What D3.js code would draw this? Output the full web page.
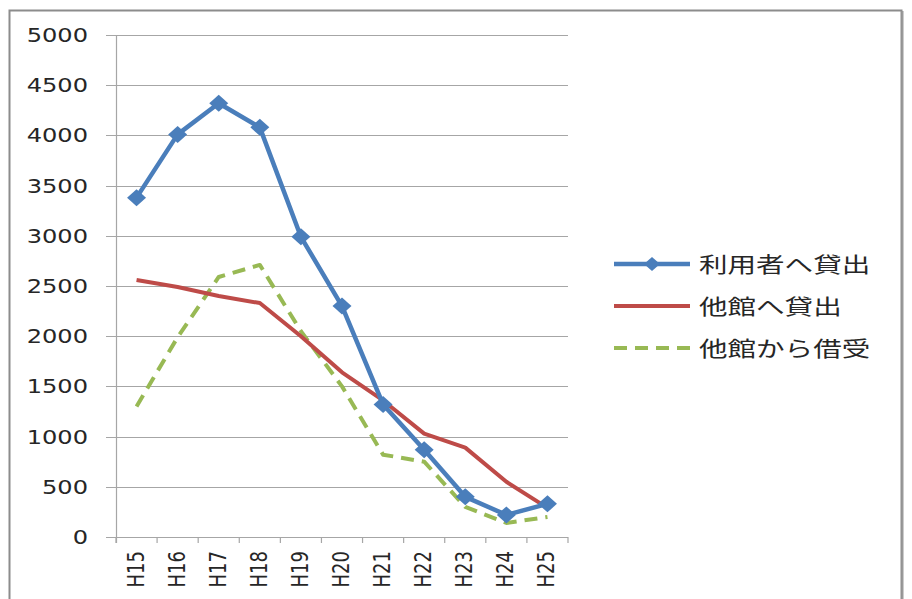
<!DOCTYPE html>
<html>
<head>
<meta charset="utf-8">
<script src="https://cdn.jsdelivr.net/npm/d3@7"></script>
<style>
  body { margin: 0; background: #fff; }
  text { font-family: "DejaVu Sans", sans-serif; fill: #262626; }
  .legend text { font-family: "Noto Sans CJK JP", sans-serif; }
</style>
</head>
<body>
<div id="chart"></div>
<script>
// data
const years = ["H15", "H16", "H17", "H18", "H19", "H20", "H21", "H22", "H23", "H24", "H25"];
const toUsers = [3380, 4010, 4320, 4080, 2990, 2300, 1320, 870, 400, 220, 330];
const toLibraries = [2560, 2490, 2400, 2330, 2000, 1640, 1360, 1030, 890, 550, 290];
const fromLibraries = [1300, 1990, 2590, 2710, 2050, 1500, 820, 750, 300, 140, 200];
const seriesNames = ["利用者へ貸出", "他館へ貸出", "他館から借受"];
const yTicks = [0, 500, 1000, 1500, 2000, 2500, 3000, 3500, 4000, 4500, 5000];

const WIDTH = 912;
const HEIGHT = 599;
const PLOT = { left: 116, right: 568, top: 35, bottom: 537 };
const STRETCH = 1.27; // the picture is wider than tall text would be

const series = [
  { name: seriesNames[0], values: toUsers, color: "#4a7ebb", width: 4.5, dash: null, marker: true },
  { name: seriesNames[1], values: toLibraries, color: "#be4b48", width: 4, dash: null, marker: false },
  { name: seriesNames[2], values: fromLibraries, color: "#98b954", width: 4, dash: "13,8", marker: false }
];

const svg = d3.select("#chart").append("svg")
  .attr("width", WIDTH)
  .attr("height", HEIGHT);

// outer frame
svg.append("rect")
  .attr("x", 9.5).attr("y", 10.5)
  .attr("width", 892).attr("height", 620)
  .attr("fill", "none")
  .attr("stroke", "#8c8c8c")
  .attr("stroke-width", 2);
svg.append("line")
  .attr("x1", 902.5).attr("x2", 902.5).attr("y1", 11).attr("y2", HEIGHT)
  .attr("stroke", "#9a9a9a").attr("stroke-width", 2);

let x = d3.scaleBand().domain(years).range([PLOT.left, PLOT.right]);
let y = d3.scaleLinear().domain([0, 5000]).range([PLOT.bottom, PLOT.top]);

// gridlines + left ticks
svg.append("g")
  .selectAll("line")
  .data(yTicks)
  .join("line")
  .attr("x1", PLOT.left - 10)
  .attr("x2", PLOT.right)
  .attr("y1", (d) => Math.round(y(d)) + 0.5)
  .attr("y2", (d) => Math.round(y(d)) + 0.5)
  .attr("stroke", "#a6a6a6")
  .attr("stroke-width", 1.2);

// y axis line
svg.append("line")
  .attr("x1", PLOT.left + 0.5).attr("x2", PLOT.left + 0.5)
  .attr("y1", PLOT.top).attr("y2", PLOT.bottom + 6)
  .attr("stroke", "#a6a6a6").attr("stroke-width", 1.2);

// x ticks at band edges
let edges = years.map((d) => x(d)).concat([PLOT.right]);
svg.append("g")
  .selectAll("line")
  .data(edges)
  .join("line")
  .attr("x1", (d) => d)
  .attr("x2", (d) => d)
  .attr("y1", PLOT.bottom)
  .attr("y2", PLOT.bottom + 6)
  .attr("stroke", "#a6a6a6").attr("stroke-width", 1.2);

// y labels
svg.append("g")
  .selectAll("text")
  .data(yTicks)
  .join("text")
  .attr("transform", (d) => `translate(88,${y(d) + 7}) scale(${STRETCH},1)`)
  .attr("text-anchor", "end")
  .attr("font-size", 19)
  .text((d) => d);

// x labels, rotated
svg.append("g")
  .selectAll("text")
  .data(years)
  .join("text")
  .attr("transform", (d) => `translate(${x(d) + x.bandwidth() / 2 + 7},551) scale(${STRETCH},1) rotate(-90)`)
  .attr("text-anchor", "end")
  .attr("font-size", 18)
  .text((d) => d);

// lines
const lineGen = d3.line()
  .x((d, i) => x(years[i]) + x.bandwidth() / 2)
  .y((d) => y(d));

// draw green first, then red, then blue on top
[series[2], series[1], series[0]].forEach((s) => {
  svg.append("path")
    .datum(s.values)
    .attr("d", lineGen)
    .attr("fill", "none")
    .attr("stroke", s.color)
    .attr("stroke-width", s.width)
    .attr("stroke-linejoin", "round")
    .attr("stroke-dasharray", s.dash);
  if (s.marker) {
    svg.append("g")
      .selectAll("path")
      .data(s.values)
      .join("path")
      .attr("d", "M0,-8.5L9.5,0L0,8.5L-9.5,0Z")
      .attr("transform", (d, i) => `translate(${x(years[i]) + x.bandwidth() / 2},${y(d)})`)
      .attr("fill", s.color);
  }
});

// legend
let legend = svg.append("g").attr("class", "legend");
let legendY = [264, 306, 348];
series.forEach((s, i) => {
  let g = legend.append("g").attr("transform", `translate(0,${legendY[i]})`);
  g.append("line")
    .attr("x1", 614).attr("x2", 690)
    .attr("stroke", s.color)
    .attr("stroke-width", s.width)
    .attr("stroke-dasharray", s.dash);
  if (s.marker) {
    g.append("path")
      .attr("d", "M0,-7L8,0L0,7L-8,0Z")
      .attr("transform", "translate(652,0)")
      .attr("fill", s.color);
  }
  g.append("text")
    .attr("transform", `translate(699,8) scale(1.36,1)`)
    .attr("font-size", 21)
    .text(s.name);
});
</script>
</body>
</html>
